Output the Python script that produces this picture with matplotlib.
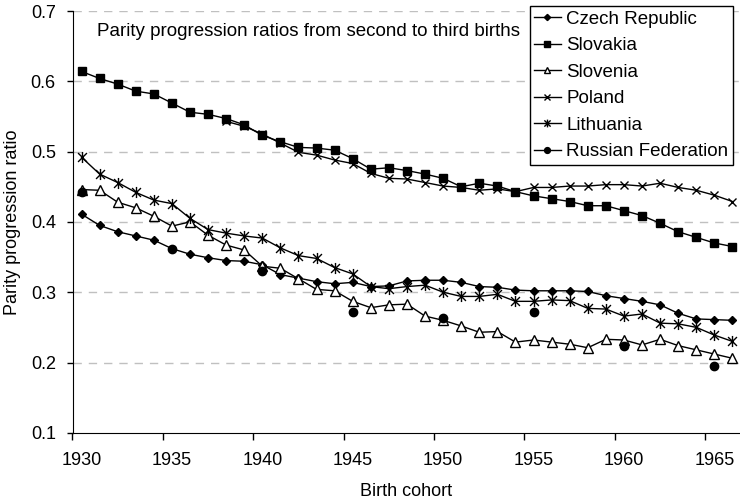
import numpy as np
import matplotlib
matplotlib.use("Agg")
from matplotlib import pyplot as plt
from matplotlib.path import Path

plt.rcParams['font.family'] = ['Liberation Sans', 'DejaVu Sans']

nan = np.nan
cohort = np.arange(1930, 1967)

czech = [0.411, 0.395, 0.386, 0.380, 0.374, 0.362, 0.354, 0.349, 0.345, 0.344,
         0.339, 0.325, 0.320, 0.315, 0.312, 0.314, 0.308, 0.309, 0.316, 0.317,
         0.317, 0.314, 0.308, 0.307, 0.303, 0.302, 0.302, 0.302, 0.301, 0.295,
         0.291, 0.287, 0.282, 0.270, 0.262, 0.261, 0.260]
slovakia = [0.614, 0.604, 0.596, 0.586, 0.582, 0.569, 0.556, 0.553, 0.547, 0.538,
            0.523, 0.514, 0.506, 0.505, 0.502, 0.490, 0.475, 0.477, 0.473, 0.468,
            0.462, 0.450, 0.455, 0.451, 0.443, 0.437, 0.433, 0.429, 0.423, 0.423,
            0.416, 0.409, 0.398, 0.386, 0.378, 0.370, 0.365]
slovenia = [0.446, 0.445, 0.428, 0.420, 0.408, 0.394, 0.400, 0.381, 0.367, 0.360,
            0.337, 0.334, 0.319, 0.304, 0.302, 0.287, 0.278, 0.282, 0.283, 0.266,
            0.260, 0.252, 0.243, 0.244, 0.229, 0.232, 0.229, 0.226, 0.221, 0.233,
            0.232, 0.225, 0.233, 0.224, 0.218, 0.212, 0.206]
poland = [nan, nan, nan, nan, nan, nan, nan, nan, 0.543, 0.536,
          0.525, 0.512, 0.499, 0.495, 0.488, 0.483, 0.469, 0.462, 0.461, 0.456,
          0.451, 0.449, 0.445, 0.447, 0.443, 0.449, 0.449, 0.451, 0.451, 0.453,
          0.453, 0.451, 0.455, 0.449, 0.445, 0.438, 0.429]
lithuania = [0.492, 0.468, 0.456, 0.442, 0.431, 0.426, 0.405, 0.389, 0.384, 0.380,
             0.377, 0.363, 0.352, 0.348, 0.335, 0.326, 0.308, 0.305, 0.308, 0.310,
             0.300, 0.294, 0.294, 0.297, 0.287, 0.287, 0.289, 0.288, 0.277, 0.276,
             0.266, 0.269, 0.256, 0.255, 0.250, 0.239, 0.230]
russia = [0.442, nan, nan, nan, nan, 0.362, nan, nan, nan, nan,
          0.330, nan, nan, nan, nan, 0.272, nan, nan, nan, nan,
          0.264, nan, nan, nan, nan, 0.272, nan, nan, nan, nan,
          0.223, nan, nan, nan, nan, 0.195, nan]

tick_years = [1930, 1935, 1940, 1945, 1950, 1955, 1960, 1965]

# Excel style asterisk: x plus vertical bar
aster = Path([(-1, -1), (1, 1), (-1, 1), (1, -1), (0, -1.25), (0, 1.25)],
             [Path.MOVETO, Path.LINETO, Path.MOVETO, Path.LINETO, Path.MOVETO, Path.LINETO])

fig = plt.figure(figsize=(7.4, 5.03), dpi=100)
ax = fig.add_axes([72.5/740, 70.2/503, 1 - 72.5/740, (432.8-11)/503])

x = cohort + 0.5  # points sit in the middle of each cohort year
kw = dict(color='black', lw=1, mec='black')
ax.plot(x, czech, marker='D', ms=4.5, mfc='black', label='Czech Republic', **kw)
ax.plot(x, slovakia, marker='s', ms=6.3, mfc='black', label='Slovakia', **kw)
ax.plot(x, slovenia, marker='^', ms=7, mfc='white', label='Slovenia', **kw)
ax.plot(x, poland, marker='x', ms=6, mew=1, label='Poland', **kw)
ax.plot(x, lithuania, marker=aster, ms=8, mew=1, label='Lithuania', **kw)
ax.plot(x, russia, marker='o', ms=6, mfc='black', label='Russian Federation', **kw)

ax.set_xlim(1930, 1930 + (740 - 72.5)/18.08)
ax.set_ylim(0.1, 0.7)
# tick marks on the year boundary, labels centred on the cohort
ax.set_xticks(tick_years)
ax.set_xticklabels([])
ax.set_xticks([t + 0.5 for t in tick_years], minor=True)
ax.set_xticklabels([str(t) for t in tick_years], minor=True)
ax.set_yticks(np.arange(0.1, 0.71, 0.1))
ax.set_yticklabels(['0.1', '0.2', '0.3', '0.4', '0.5', '0.6', '0.7'])
for v in np.arange(0.2, 0.71, 0.1):
    ax.axhline(v, color='#c0c0c0', lw=1, ls=(0, (6, 5)), zorder=0)

ax.spines['top'].set_visible(False)
ax.spines['right'].set_visible(False)
ax.spines['left'].set_color('black')
ax.spines['bottom'].set_color('black')
ax.tick_params(axis='y', direction='out', length=4, width=1, colors='black',
               labelsize=13, pad=8)
ax.tick_params(axis='x', which='major', direction='out', length=5, width=1, colors='black')
ax.tick_params(axis='x', which='minor', length=0, labelsize=13, pad=14)

ax.set_xlabel('Birth cohort', fontsize=13, labelpad=10)
ax.set_ylabel('Parity progression ratio', fontsize=13, labelpad=7)

fig.text(97/740, 1 - 32/503, 'Parity progression ratios from second to third births',
         fontsize=13.5, va='center', ha='left')

leg = ax.legend(loc='upper right', bbox_to_anchor=(733/740, 1 - 6/503),
                bbox_transform=fig.transFigure, fontsize=13.5, frameon=True,
                fancybox=False, edgecolor='black', framealpha=1, markerscale=0.7,
                handlelength=1.4, handletextpad=0.3, labelspacing=0.5,
                borderpad=0.25, borderaxespad=0)
leg.get_frame().set_linewidth(1)

fig.savefig('out.png', dpi=100)
